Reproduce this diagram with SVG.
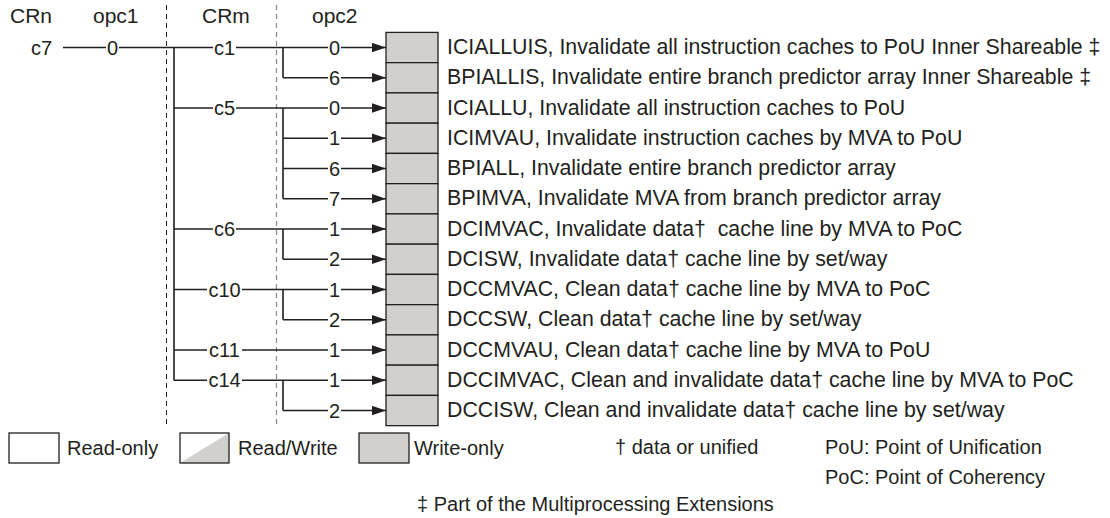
<svg xmlns="http://www.w3.org/2000/svg" width="1110" height="518" viewBox="0 0 1110 518">
<style>
text{font-family:"Liberation Sans",Arial,sans-serif;fill:#231f20}
.h{font-size:21px}
.t{font-size:20px}
.tm{font-size:20px;text-anchor:middle}
.d{font-size:21.3px}
.l{font-size:20px}
.reg{fill:#d1d0cc;stroke:#231f20;stroke-width:1.3}
.hl{stroke:#231f20;stroke-width:1.3;fill:none}
.vl{stroke:#4a4a4a;stroke-width:2;fill:none}
.dash1{stroke:#231f20;stroke-width:1;stroke-dasharray:5 4}
.dash2{stroke:#8a8a8a;stroke-width:1.2;stroke-dasharray:5 4}
</style>
<defs>
<marker id="ah" markerWidth="14" markerHeight="10" refX="14" refY="5" orient="auto" markerUnits="userSpaceOnUse">
<path d="M0,0.3 L14,5 L0,9.7 Z" fill="#231f20"/>
</marker>
</defs>
<g id="headers">
<text class="h" x="10" y="23">CRn</text>
<text class="h" x="93" y="23">opc1</text>
<text class="h" x="202" y="23">CRm</text>
<text class="h" x="312" y="23">opc2</text>
</g>
<line class="dash1" x1="166.5" y1="5" x2="166.5" y2="426"/>
<line class="dash2" x1="276.5" y1="5" x2="276.5" y2="426"/>
<g id="connectors">
<path class="vl" d="M174,47.5 V380.25"/>
<path class="vl" d="M283,47.5 V77.75 M283,108 V198.75 M283,229 V259.25 M283,289.5 V319.75 M283,380.25 V410.5"/>
<path class="hl" d="M63,47.5 H106 M119,47.5 H213 M236,47.5 H328"/>
<path class="hl" d="M341,47.5 H386" marker-end="url(#ah)"/>
<path class="hl" d="M283,77.75 H328"/><path class="hl" d="M341,77.75 H386" marker-end="url(#ah)"/>
<path class="hl" d="M174,108 H213 M236,108 H328"/><path class="hl" d="M341,108 H386" marker-end="url(#ah)"/>
<path class="hl" d="M283,138.25 H328"/><path class="hl" d="M341,138.25 H386" marker-end="url(#ah)"/>
<path class="hl" d="M283,168.5 H328"/><path class="hl" d="M341,168.5 H386" marker-end="url(#ah)"/>
<path class="hl" d="M283,198.75 H328"/><path class="hl" d="M341,198.75 H386" marker-end="url(#ah)"/>
<path class="hl" d="M174,229 H213 M236,229 H328"/><path class="hl" d="M341,229 H386" marker-end="url(#ah)"/>
<path class="hl" d="M283,259.25 H328"/><path class="hl" d="M341,259.25 H386" marker-end="url(#ah)"/>
<path class="hl" d="M174,289.5 H207 M242,289.5 H328"/><path class="hl" d="M341,289.5 H386" marker-end="url(#ah)"/>
<path class="hl" d="M283,319.75 H328"/><path class="hl" d="M341,319.75 H386" marker-end="url(#ah)"/>
<path class="hl" d="M174,350 H207 M242,350 H328"/><path class="hl" d="M341,350 H386" marker-end="url(#ah)"/>
<path class="hl" d="M174,380.25 H207 M242,380.25 H328"/><path class="hl" d="M341,380.25 H386" marker-end="url(#ah)"/>
<path class="hl" d="M283,410.5 H328"/><path class="hl" d="M341,410.5 H386" marker-end="url(#ah)"/>
</g>
<g id="tree-labels">
<text class="t" x="52" y="54.5" text-anchor="end">c7</text>
<text class="tm" x="112.5" y="54.5">0</text>
<text class="tm" x="224.5" y="54.5">c1</text>
<text class="tm" x="224.5" y="115">c5</text>
<text class="tm" x="224.5" y="236">c6</text>
<text class="tm" x="224.5" y="296.5">c10</text>
<text class="tm" x="224.5" y="357">c11</text>
<text class="tm" x="224.5" y="387.25">c14</text>
<text class="tm" x="334.5" y="54.5">0</text>
<text class="tm" x="334.5" y="84.75">6</text>
<text class="tm" x="334.5" y="115">0</text>
<text class="tm" x="334.5" y="145.25">1</text>
<text class="tm" x="334.5" y="175.5">6</text>
<text class="tm" x="334.5" y="205.75">7</text>
<text class="tm" x="334.5" y="236">1</text>
<text class="tm" x="334.5" y="266.25">2</text>
<text class="tm" x="334.5" y="296.5">1</text>
<text class="tm" x="334.5" y="326.75">2</text>
<text class="tm" x="334.5" y="357">1</text>
<text class="tm" x="334.5" y="387.25">1</text>
<text class="tm" x="334.5" y="417.5">2</text>
</g>
<g id="ICIALLUIS"><rect class="reg" x="386" y="32.4" width="52" height="30.25"/><text class="d" x="447" y="54">ICIALLUIS, Invalidate all instruction caches to PoU Inner Shareable ‡</text></g>
<g id="BPIALLIS"><rect class="reg" x="386" y="62.65" width="52" height="30.25"/><text class="d" x="447" y="84.25">BPIALLIS, Invalidate entire branch predictor array Inner Shareable ‡</text></g>
<g id="ICIALLU"><rect class="reg" x="386" y="92.9" width="52" height="30.25"/><text class="d" x="447" y="114.5">ICIALLU, Invalidate all instruction caches to PoU</text></g>
<g id="ICIMVAU"><rect class="reg" x="386" y="123.15" width="52" height="30.25"/><text class="d" x="447" y="144.75">ICIMVAU, Invalidate instruction caches by MVA to PoU</text></g>
<g id="BPIALL"><rect class="reg" x="386" y="153.4" width="52" height="30.25"/><text class="d" x="447" y="175">BPIALL, Invalidate entire branch predictor array</text></g>
<g id="BPIMVA"><rect class="reg" x="386" y="183.65" width="52" height="30.25"/><text class="d" x="447" y="205.25">BPIMVA, Invalidate MVA from branch predictor array</text></g>
<g id="DCIMVAC"><rect class="reg" x="386" y="213.9" width="52" height="30.25"/><text class="d" x="447" y="235.5" style="white-space:pre">DCIMVAC, Invalidate data†  cache line by MVA to PoC</text></g>
<g id="DCISW"><rect class="reg" x="386" y="244.15" width="52" height="30.25"/><text class="d" x="447" y="265.75">DCISW, Invalidate data† cache line by set/way</text></g>
<g id="DCCMVAC"><rect class="reg" x="386" y="274.4" width="52" height="30.25"/><text class="d" x="447" y="296">DCCMVAC, Clean data† cache line by MVA to PoC</text></g>
<g id="DCCSW"><rect class="reg" x="386" y="304.65" width="52" height="30.25"/><text class="d" x="447" y="326.25">DCCSW, Clean data† cache line by set/way</text></g>
<g id="DCCMVAU"><rect class="reg" x="386" y="334.9" width="52" height="30.25"/><text class="d" x="447" y="356.5">DCCMVAU, Clean data† cache line by MVA to PoU</text></g>
<g id="DCCIMVAC"><rect class="reg" x="386" y="365.15" width="52" height="30.25"/><text class="d" x="447" y="386.75">DCCIMVAC, Clean and invalidate data† cache line by MVA to PoC</text></g>
<g id="DCCISW"><rect class="reg" x="386" y="395.4" width="52" height="30.25"/><text class="d" x="447" y="417">DCCISW, Clean and invalidate data† cache line by set/way</text></g>
<g id="legend">
<rect x="9" y="433" width="50" height="30" fill="#fff" stroke="#231f20" stroke-width="1.3"/>
<text class="l" x="67" y="455">Read-only</text>
<polygon points="180,463 229,433 229,463" fill="#d1d0cc"/>
<rect x="180" y="433" width="49" height="30" fill="none" stroke="#231f20" stroke-width="1.3"/>
<text class="l" x="238" y="455">Read/Write</text>
<rect class="reg" x="359" y="433" width="50" height="30"/>
<text class="l" x="414" y="455">Write-only</text>
<text class="l" x="615" y="454">† data or unified</text>
<text class="l" x="825" y="454">PoU: Point of Unification</text>
<text class="l" x="825" y="484">PoC: Point of Coherency</text>
<text class="l" x="417" y="511">‡ Part of the Multiprocessing Extensions</text>
</g>
</svg>
